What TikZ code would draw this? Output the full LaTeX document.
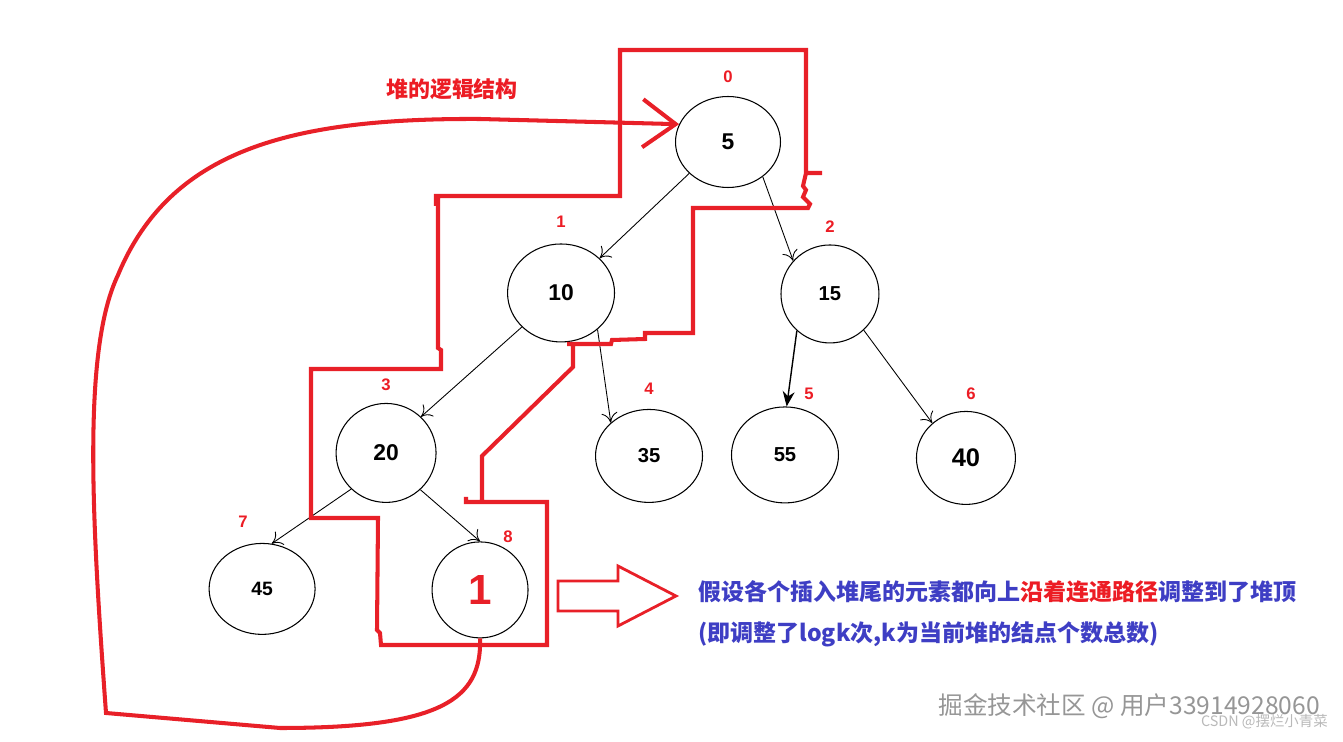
\documentclass[tikz,border=0pt]{standalone}
\usepackage{fontspec}
\setmainfont{Liberation Sans}
\newfontfamily\cjk{Noto Sans CJK SC}
\usetikzlibrary{positioning,arrows.meta,shapes.geometric}
\definecolor{Pen}{RGB}{232,32,40}
\definecolor{Ink}{RGB}{62,62,196}
\definecolor{Mark}{RGB}{236,28,36}
\definecolor{Stamp}{RGB}{150,150,150}
\definecolor{Faint}{RGB}{185,185,185}
\tikzset{
  heap/.style={ellipse, draw, line width=0.6pt, inner sep=0pt, font=\bfseries\fontsize{#1}{#1}\selectfont},
  idx/.style={text=Mark, inner sep=0pt, font=\bfseries\fontsize{9.5}{10}\selectfont},
  link/.style={-{To[length=2mm,width=3.2mm]}, line width=0.5pt},
  pen/.style={draw=Pen, line width=2.3pt},
  say/.style={anchor=west, inner sep=0pt, text=Ink, font=\cjk\bfseries\fontsize{13.1}{14}\selectfont}
}

\begin{document}
\begin{tikzpicture}[x=0.02cm, y=-0.02cm, on grid]
\useasboundingbox (0,0) rectangle (1343,742);
\node[heap=13, minimum width=2.1cm, minimum height=1.82cm] (n0) at (728,142) {5};
\node[heap=13, minimum width=2.14cm, minimum height=1.96cm, below left=3.02cm and 3.34cm of n0] (n1) {10};
\node[heap=11.5, minimum width=1.96cm, minimum height=1.96cm, below right=3.04cm and 2.04cm of n0] (n2) {15};
\node[heap=13, minimum width=2cm, minimum height=1.98cm, below left=3.2cm and 3.5cm of n1] (n3) {20};
\node[heap=11.5, minimum width=2.14cm, minimum height=1.86cm, below right=3.26cm and 1.76cm of n1] (n4) {35};
\node[heap=11.5, minimum width=2.14cm, minimum height=1.92cm, below left=3.22cm and 0.9cm of n2] (n5) {55};
\node[heap=14.5, minimum width=1.98cm, minimum height=1.86cm, below right=3.28cm and 2.72cm of n2] (n6) {40};
\node[heap=11, minimum width=2.12cm, minimum height=1.82cm, below left=2.72cm and 2.48cm of n3] (n7) {45};
\node[heap=24, text=Pen, minimum width=1.92cm, minimum height=1.92cm, below right=2.74cm and 1.88cm of n3] (n8) {1};
\node[idx, above=1.3cm of n0] (i0) {0};
\node[idx, above=1.42cm of n1] (i1) {1};
\node[idx, above=1.34cm of n2] (i2) {2};
\node[idx, above=1.36cm of n3] (i3) {3};
\node[idx, above=1.34cm of n4] (i4) {4};
\node[idx, above right=1.22cm and 0.48cm of n5] (i5) {5};
\node[idx, above right=1.28cm and 0.1cm of n6] (i6) {6};
\node[idx, above left=1.34cm and 0.38cm of n7] (i7) {7};
\node[idx, above right=1.06cm and 0.56cm of n8] (i8) {8};
\draw[link] (n0.219) -- (n1.42);
\draw[link] (n0.-45) -- (n2.138);
\draw[link] (n1.221) -- (n3.46);
\draw[link] (n1.-45) -- (n4.139);
\draw[-{Stealth[length=3mm,width=2.4mm]}, line width=0.8pt] (n2.228) -- (n5.88);
\draw[link] (n2.-47) -- (n6.134);
\draw[link] (n3.226) -- (n7.78);
\draw[link] (n3.-47) -- (n8.90);
\draw[pen] (436,206) -- (436,196) -- (620,196) -- (620,50) -- (806,50) -- (806,173) -- (822,173)
  (806,173) -- (803,186) -- (806,190) -- (803,197) -- (810,204) -- (808,208) -- (693,208) -- (693,333)
  -- (645,333) -- (645,339) -- (612,340) -- (611,344) -- (567,344)
  (573,344) -- (573,367) -- (482,456) -- (482,502) -- (547,502) -- (547,645) -- (381,645)
  -- (380,633) -- (377,630) -- (378,518) -- (311,518) -- (311,369) -- (441,369) -- (441,350)
  -- (438,348) -- (438,196)
  (466,497) -- (466,502) -- (482,502);
\draw[pen, -{Straight Barb[length=6.6mm,width=9.6mm]}] (n8.south) .. controls (482,700) and (440,728) .. (280,728)
  -- (106,713) .. controls (92,520) and (82,350) .. (118,275) .. controls (170,150) and (290,118) .. (480,119)
  -- (n0.160);
\draw[Pen, line width=1.6pt] (558,581) -- (618,581) -- (618,566) -- (676,596) -- (618,626) -- (618,611) -- (558,611) -- cycle;
\node[text=Mark, font=\cjk\bfseries\fontsize{12.5}{14}\selectfont] (title) at (452,89) {堆的逻辑结构};
\node[say] (say1) at (698,592) {假设各个插入堆尾的元素都向上\textcolor{Mark}{沿着连通路径}调整到了堆顶};
\node[say] (say2) at (698,634) {(即调整了logk次,k为当前堆的结点个数总数)};
\node[anchor=east, inner sep=0pt, text=Stamp, font=\cjk\fontsize{14}{16}\selectfont] (stamp1) at (1320,706) {掘金技术社区 @ 用户33914928060};
\node[anchor=east, inner sep=0pt, text=Faint, font=\cjk\fontsize{8.2}{9}\selectfont] (stamp2) at (1328,722) {CSDN @摆烂小青菜};
\end{tikzpicture}
\end{document}
